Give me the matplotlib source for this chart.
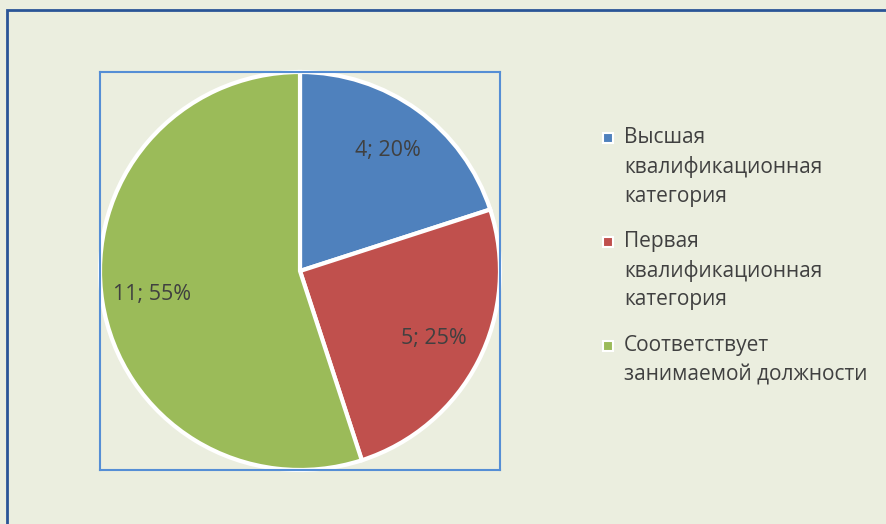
import matplotlib
matplotlib.use("Agg")
import matplotlib.pyplot as plt
from matplotlib.patches import Rectangle

plt.rcParams['font.family'] = ['Open Sans', 'DejaVu Sans']

categories = ['Высшая\nквалификационная\nкатегория',
              'Первая\nквалификационная\nкатегория',
              'Соответствует\nзанимаемой должности']
values = [4, 5, 11]
colors = ['#4F81BD', '#C0504D', '#9BBB59']

W, H = 886, 524
bg = '#EBEEDF'
fig = plt.figure(figsize=(W / 100, H / 100), dpi=100, facecolor=bg)

# outer chart border (only left and top visible)
fig.add_artist(Rectangle((7 / W, -0.1), 1.2, 1 - 10 / H + 0.1, transform=fig.transFigure,
                         fill=False, edgecolor='#2A5597', lw=2))

ax = fig.add_axes([100 / W, (H - 470) / H, 400 / W, 398 / H])
total = sum(values)


def fmt(p):
    v = int(round(p * total / 100))
    return f'{v}; {p:.0f}%'


wedges, texts, autotexts = ax.pie(values, colors=colors, startangle=90, counterclock=False,
                                  autopct=fmt, pctdistance=0.75,
                                  wedgeprops=dict(edgecolor='white', linewidth=3),
                                  textprops=dict(color='#404040', fontsize=15.5))
ax.set_xlim(-1.0, 1.0)
ax.set_ylim(-1.0, 1.0)
ax.set_aspect('auto')
ax.set_frame_on(True)
ax.set_facecolor(bg)
ax.set_xticks([])
ax.set_yticks([])
for s in ax.spines.values():
    s.set_visible(True)
    s.set_color('#558ED5')
    s.set_linewidth(1.5)

# legend, drawn by hand to get the Excel-like wrapping
y = 138
for cat, c in zip(categories, colors):
    fig.add_artist(Rectangle((603 / W, 1 - (y + 5) / H), 10 / W, 10 / H, transform=fig.transFigure,
                             facecolor=c, edgecolor='white', lw=1.5))
    for line in cat.split('\n'):
        fig.text(624 / W, 1 - y / H, line, fontsize=15, color='#404040', va='center')
        y += 29
    y += 17

fig.savefig('out.png', dpi=100, facecolor=fig.get_facecolor())
